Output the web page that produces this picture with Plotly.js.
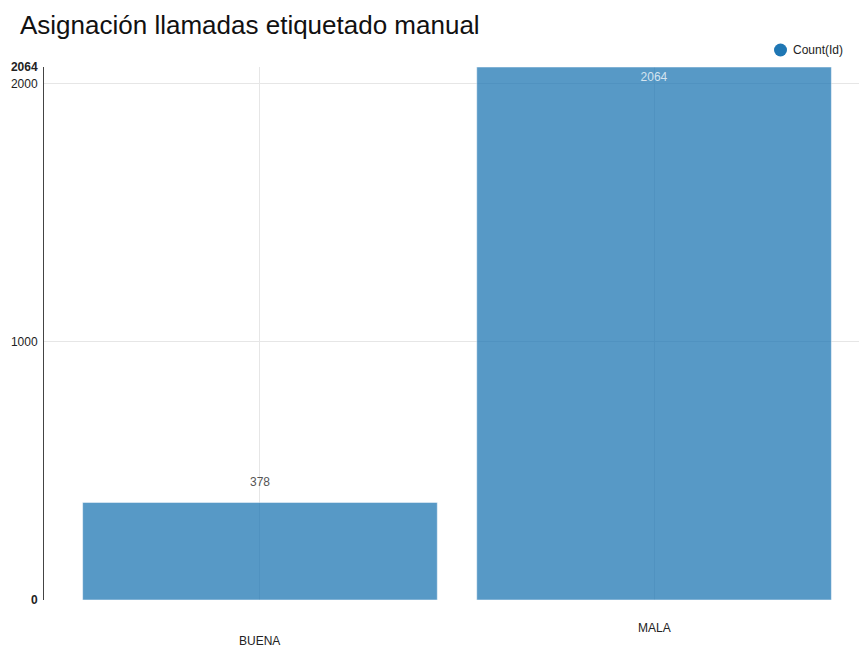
<!DOCTYPE html>
<html>
<head>
<meta charset="utf-8">
<script src="https://cdn.plot.ly/plotly-3.0.1.min.js"></script>
<style>
  html, body { margin: 0; padding: 0; background: #fff; }
  #chart { width: 859px; height: 647px; }
</style>
</head>
<body>
<div id="chart"></div>
<script>
// Call assignment counts for manual labelling
const categories = ['BUENA', 'MALA'];
const counts = [378, 2064];
const seriesName = 'Count(Id)';
const yTickVals = [0, 1000, 2000, 2064];
const yTickText = ['<b>0</b>', '1000', '2000', '<b>2064</b>'];

const FONT = 'Liberation Sans, Arial, sans-serif';
const BLUE = '#1f77b4';
const INSIDE_MIN = 1500;   // bars taller than this carry their label inside

const bars = {
  type: 'bar',
  x: categories,
  y: counts,
  name: seriesName,
  showlegend: false,
  width: 0.9,
  marker: { color: BLUE, opacity: 0.75, line: { color: 'rgba(255,255,255,0.5)', width: 1 } },
  text: counts.map(String),
  textposition: counts.map(v => v > INSIDE_MIN ? 'inside' : 'none'),
  insidetextanchor: 'end',
  textfont: { family: FONT, size: 12, color: 'rgba(255,255,255,0.75)' },
  cliponaxis: false,
  hoverinfo: 'x+y'
};

// value labels sitting above the shorter bars
const valueLabels = categories
  .map((c, i) => ({ c, v: counts[i] }))
  .filter(d => d.v <= INSIDE_MIN)
  .map(d => ({
    x: d.c, y: d.v, xref: 'x', yref: 'y',
    text: String(d.v), showarrow: false,
    yanchor: 'bottom', yshift: 11,
    font: { family: FONT, size: 12, color: '#555' }
  }));

// category labels, alternating rows
const xLabels = categories.map((c, i) => ({
  x: c, y: 0, xref: 'x', yref: 'y',
  text: c, showarrow: false,
  yanchor: 'top', yshift: i % 2 === 0 ? -32 : -19,
  font: { family: FONT, size: 12, color: '#222' }
}));

// legend: round marker followed by the series name, top right
const legendLabel = {
  xref: 'paper', yref: 'paper',
  x: 1, y: 1, xanchor: 'right', yanchor: 'middle',
  xshift: -14, yshift: 17,
  showarrow: false,
  text: seriesName,
  font: { family: FONT, size: 12, color: '#222' }
};
const legendDot = {
  type: 'circle',
  xref: 'paper', xsizemode: 'pixel', xanchor: 1, x0: -85, x1: -72,
  yref: 'paper', ysizemode: 'pixel', yanchor: 1, y0: 10.5, y1: 23.5,
  fillcolor: BLUE,
  line: { width: 0 }
};

const layout = {
  width: 859,
  height: 647,
  margin: { l: 44, r: 0, t: 67, b: 47 },
  paper_bgcolor: '#fff',
  plot_bgcolor: '#fff',
  font: { family: FONT, size: 12, color: '#222' },
  title: {
    text: 'Asignación llamadas etiquetado manual',
    x: 0.0233, xanchor: 'left',
    y: 0.962, yanchor: 'middle',
    font: { family: FONT, size: 26, color: '#111' }
  },
  showlegend: false,
  xaxis: {
    type: 'category',
    range: [-0.548, 1.52],
    showticklabels: false,
    showgrid: true,
    gridcolor: '#e6e6e6',
    gridwidth: 1,
    zeroline: false,
    showline: false,
    ticks: ''
  },
  yaxis: {
    range: [0, 2064],
    tickmode: 'array',
    tickvals: yTickVals,
    ticktext: yTickText,
    ticks: '',
    showgrid: true,
    gridcolor: '#e6e6e6',
    gridwidth: 1,
    zeroline: false,
    showline: true,
    linecolor: '#444',
    linewidth: 1,
    tickfont: { family: FONT, size: 12, color: '#222' },
    ticklabelstandoff: 3
  },
  shapes: [legendDot],
  annotations: [...valueLabels, ...xLabels, legendLabel],
  bargap: 0.1
};

Plotly.newPlot('chart', [bars], layout, { displayModeBar: false, staticPlot: true });
</script>
</body>
</html>
